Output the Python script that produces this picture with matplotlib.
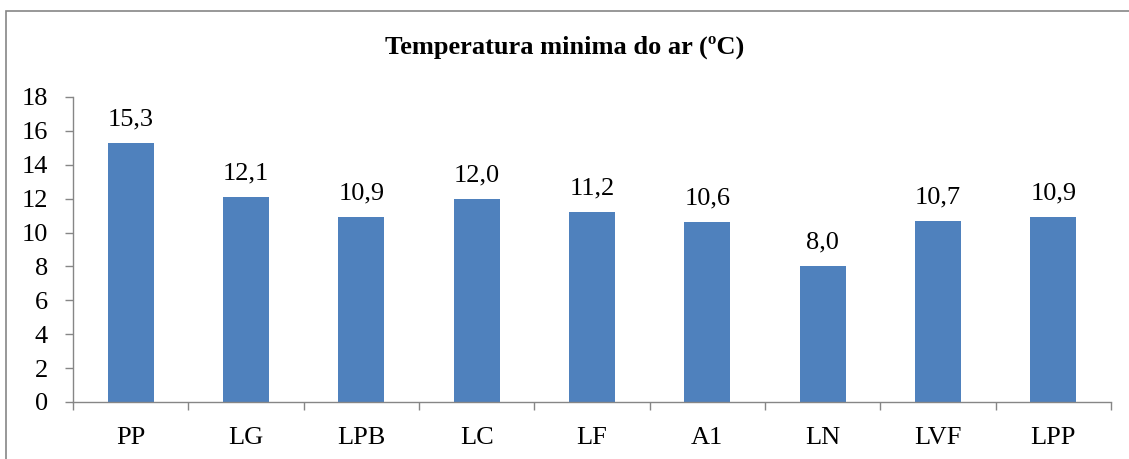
import numpy as np
import matplotlib.pyplot as plt
from matplotlib.patches import Rectangle

categories = ['PP', 'LG', 'LPB', 'LC', 'LF', 'A1', 'LN', 'LVF', 'LPP']
values = [15.3, 12.1, 10.9, 12.0, 11.2, 10.6, 8.0, 10.7, 10.9]
yticks = [0, 2, 4, 6, 8, 10, 12, 14, 16, 18]

plt.rcParams['font.family'] = ['Liberation Serif', 'DejaVu Serif']

fig = plt.figure(figsize=(11.29, 4.59), dpi=100)
ax = fig.add_axes([0.0647, 0.1242, 0.9193, 0.6645])

x = np.arange(len(categories))
bars = ax.bar(x, values, width=0.4, color='#4F81BD', zorder=2)
for xi, v in zip(x, values):
    ax.annotate(f'{v:.1f}'.replace('.', ','), (xi, v), xytext=(0, 9),
                textcoords='offset points', ha='center', va='bottom', fontsize=19)

ax.set_xlim(-0.5, len(categories) - 0.5)
ax.set_ylim(0, 18)
ax.set_yticks(yticks)
ax.set_yticklabels([str(t) for t in yticks], fontsize=19)
ax.set_xticks(x)
ax.set_xticklabels(categories, fontsize=19)
ax.set_xticks(np.arange(-0.5, len(categories)), minor=True)
ax.tick_params(axis='x', which='major', length=0, pad=18)
ax.tick_params(axis='x', which='minor', length=6, color='#868686', width=1)
ax.tick_params(axis='y', length=6, color='#868686', width=1, pad=12)

for s in ['top', 'right']:
    ax.spines[s].set_visible(False)
for s in ['left', 'bottom']:
    ax.spines[s].set_color('#868686')
    ax.spines[s].set_linewidth(1)

fig.text(0.5, 0.896, 'Temperatura minima do ar (ºC)', ha='center', va='center',
         fontsize=19, fontweight='bold')

# outer chart border (right and bottom edges fall outside the image)
border = Rectangle((6 / 1129, -0.05), 1.05, 1.05 - 11 / 459,
                   transform=fig.transFigure, fill=False, edgecolor='#868686',
                   linewidth=1.2, clip_on=False)
fig.patches.append(border)

fig.savefig('out.png', dpi=100)
